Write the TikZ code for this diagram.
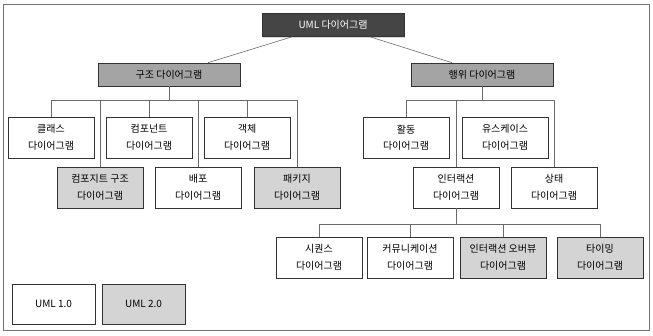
\documentclass[tikz,border=0pt]{standalone}
\usepackage{fontspec}
\setmainfont{Noto Sans CJK KR}
\usepackage{tikz}
\usetikzlibrary{positioning,shadows}
\usepackage{xcolor}
\definecolor{fdark}{HTML}{454545}
\definecolor{fmid}{HTML}{A4A4A4}
\definecolor{flight}{HTML}{D4D4D4}
\definecolor{fline}{HTML}{6A6A6A}
\tikzset{
  diag/.style    = {draw=black!80, line width=0.6pt, rectangle, fill=white,
                    minimum width=86pt, minimum height=41pt, align=center,
                    inner sep=1pt, font={\fontsize{10}{16.5}\selectfont},
                    drop shadow={shadow xshift=1.2pt, shadow yshift=-1.2pt, opacity=0.3}},
  newdiag/.style = {diag, fill=flight},
  group/.style   = {diag, fill=fmid, minimum width=142pt, minimum height=23pt},
  root/.style    = {group, fill=fdark, text=white},
  legbox/.style  = {diag, minimum width=83pt, minimum height=40pt},
  conn/.style    = {draw=fline, line width=0.6pt},
}

\begin{document}
\begin{tikzpicture}[x=1pt,y=-1pt]
\useasboundingbox (0,0) rectangle (653,335);
\draw[draw=black!55, line width=0.8pt] (3.5,4) rectangle (649,330.5);

\node[root]  (uml)    at (333,25)   {UML 다이어그램};
\node[group] (struct) at (169,74.5) {구조 다이어그램};
\node[group] (behav)  at (482,74.5) {행위 다이어그램};

\node[diag]    (class)   at (51,137.5)  {클래스\\다이어그램};
\node[diag]    (compo)   at (149,137.5) {컴포넌트\\다이어그램};
\node[diag]    (object)  at (247,137.5) {객체\\다이어그램};
\node[newdiag] (compst)  at (100,187.5) {컴포지트 구조\\다이어그램};
\node[diag]    (deploy)  at (198,187.5) {배포\\다이어그램};
\node[newdiag] (pkg)     at (297,187.5) {패키지\\다이어그램};

\node[diag]    (activity) at (406,137.5) {활동\\다이어그램};
\node[diag]    (usecase)  at (505,137.5) {유스케이스\\다이어그램};
\node[diag]    (inter)    at (456,187.5) {인터랙션\\다이어그램};
\node[diag]    (state)    at (554,187.5) {상태\\다이어그램};

\node[diag]    (seq)      at (319,257.5) {시퀀스\\다이어그램};
\node[diag]    (comm)     at (410,257.5) {커뮤니케이션\\다이어그램};
\node[newdiag] (overview) at (503,257.5) {인터랙션 오버뷰\\다이어그램};
\node[newdiag] (timing)   at (600,257.5) {타이밍\\다이어그램};

\node[legbox]             (old) at (53.5,304)  {UML 1.0};
\node[legbox,fill=flight] (new) at (143.5,304) {UML 2.0};

\draw[conn] ([xshift=-41pt]uml.south) -- ([xshift=39pt]struct.north);
\draw[conn] ([xshift=37pt]uml.south) -- ([xshift=-30pt]behav.north);
\foreach \c in {class,compo,object,compst,deploy,pkg}
  \draw[conn] (struct.south) -- ++(0,14) -| (\c.north);
\foreach \c in {activity,inter,state}
  \draw[conn] (behav.south) -- ++(0,14) -| (\c.north);
\foreach \c in {seq,comm,overview,timing}
  \draw[conn] (inter.south) -- ++(0,16) -| (\c.north);
\end{tikzpicture}
\end{document}
